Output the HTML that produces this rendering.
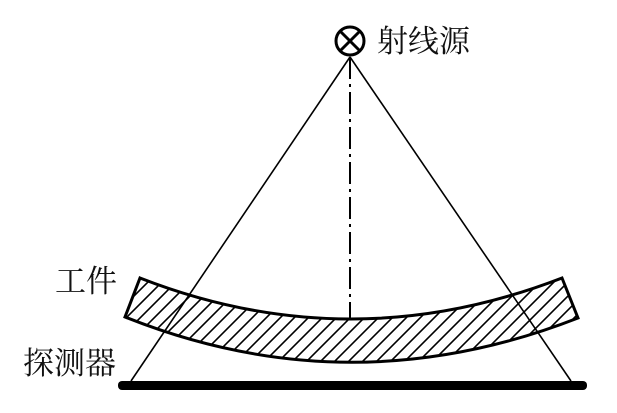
<!DOCTYPE html>
<html><head><meta charset="utf-8"><style>
html,body{margin:0;padding:0;background:#fff;}
svg{display:block;}
text{font-family:"Liberation Serif","Noto Serif CJK SC",serif;font-size:31px;fill:#111;}
</style></head><body>
<svg width="617" height="413" viewBox="0 0 617 413" xmlns="http://www.w3.org/2000/svg">
<defs>
<clipPath id="wp"><path d="M140,278 Q350,360 562,278 L578,318 Q350,407 125,317 Z"/></clipPath>
</defs>
<g clip-path="url(#wp)" stroke="#000" stroke-width="1.6">
<g id="h">
</g>
<path d="M100,400 L260,240 M114,400 L274,240 M128,400 L288,240 M142,400 L302,240 M156,400 L316,240 M170,400 L330,240 M184,400 L344,240 M198,400 L358,240 M212,400 L372,240 M226,400 L386,240 M240,400 L400,240 M254,400 L414,240 M268,400 L428,240 M282,400 L442,240 M296,400 L456,240 M310,400 L470,240 M324,400 L484,240 M338,400 L498,240 M352,400 L512,240 M366,400 L526,240 M380,400 L540,240 M394,400 L554,240 M408,400 L568,240 M422,400 L582,240 M436,400 L596,240 M450,400 L610,240 M464,400 L624,240 M478,400 L638,240 M492,400 L652,240 M506,400 L666,240 M520,400 L680,240 M534,400 L694,240 M548,400 L708,240 M562,400 L722,240 M86,400 L246,240 M72,400 L232,240 M58,400 L218,240 M44,400 L204,240 M30,400 L190,240"/>
</g>
<path d="M140,278 Q350,360 562,278 L578,318 Q350,407 125,317 Z" fill="none" stroke="#000" stroke-width="3"/>
<line x1="350" y1="57" x2="131" y2="381" stroke="#000" stroke-width="1.6"/>
<line x1="350" y1="57" x2="571" y2="381" stroke="#000" stroke-width="1.6"/>
<line x1="350" y1="57" x2="350" y2="318" stroke="#000" stroke-width="2" stroke-dasharray="22,5,3,5"/>
<rect x="118" y="381" width="469" height="9" rx="4" fill="#000"/>
<circle cx="350" cy="41" r="14" fill="#fff" stroke="#000" stroke-width="3"/>
<line x1="340" y1="31" x2="360" y2="51" stroke="#000" stroke-width="3"/>
<line x1="360" y1="31" x2="340" y2="51" stroke="#000" stroke-width="3"/>
<text x="377" y="52">射线源</text>
<text x="55" y="292">工件</text>
<text x="23" y="374">探测器</text>
</svg>
</body></html>
